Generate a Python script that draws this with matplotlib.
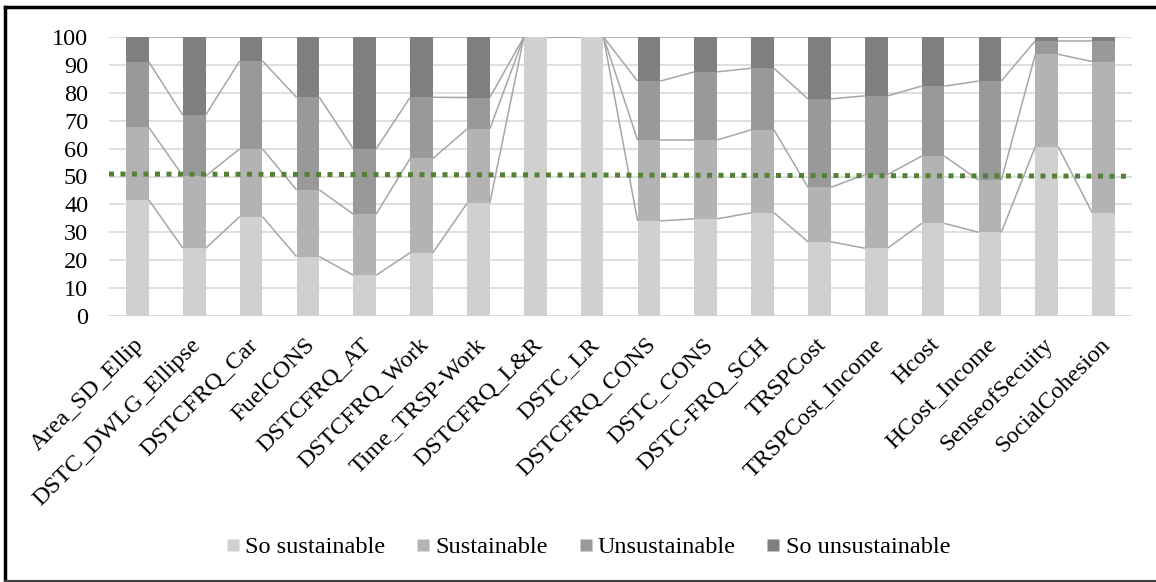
import numpy as np
import matplotlib
matplotlib.use("Agg")
import matplotlib.pyplot as plt
import matplotlib.transforms as mtransforms
from matplotlib.lines import Line2D

plt.rcParams['font.family'] = ['Liberation Serif', 'DejaVu Serif']

# indicators and the share (%) of each sustainability class
indicators = ["Area_SD_Ellip", "DSTC_DWLG_Ellipse", "DSTCFRQ_Car", "FuelCONS",
              "DSTCFRQ_AT", "DSTCFRQ_Work", "Time_TRSP-Work", "DSTCFRQ_L&R",
              "DSTC_LR", "DSTCFRQ_CONS", "DSTC_CONS", "DSTC-FRQ_SCH",
              "TRSPCost", "TRSPCost_Income", "Hcost", "HCost_Income",
              "SenseofSecuity", "SocialCohesion"]

so_sustainable = [41.6, 24.3, 35.6, 21.3, 14.6, 22.7, 40.4, 100, 100,
                  34.1, 34.8, 37.0, 26.6, 24.3, 33.2, 30.0, 60.7, 37.0]
sustainable = [26.0, 25.9, 24.3, 23.9, 21.9, 33.8, 26.6, 0, 0,
               29.0, 28.3, 29.7, 19.5, 26.4, 24.1, 18.7, 33.1, 54.2]
unsustainable = [23.5, 21.8, 31.5, 33.2, 23.4, 21.9, 11.3, 0, 0,
                 21.1, 24.4, 22.1, 31.7, 28.2, 25.1, 35.5, 4.9, 7.5]
so_unsustainable = [100 - a - b - c for a, b, c in
                    zip(so_sustainable, sustainable, unsustainable)]

series_names = ["So sustainable", "Sustainable", "Unsustainable", "So unsustainable"]
series_colors = ["#d0d0d0", "#b3b3b3", "#999999", "#7f7f7f"]

# 50 % reference line (left and right end)
threshold = [50.9, 50.1]

FS = 17.5

fig = plt.figure(figsize=(11.56, 5.82), dpi=100)
ax = fig.add_axes([109/1156, 1 - 316/582, (1132 - 109)/1156, (316 - 37)/582])

x = np.arange(len(indicators))
w = 0.4
data = [so_sustainable, sustainable, unsustainable, so_unsustainable]
bottom = np.zeros(len(indicators))
for vals, name, col in zip(data, series_names, series_colors):
    vals = np.array(vals)
    ax.bar(x, vals, w, bottom=bottom, color=col, label=name, zorder=3)
    bottom = bottom + vals
    # series lines between neighbouring bars
    for i in range(len(x) - 1):
        ax.plot([x[i] + w/2, x[i+1] - w/2], [bottom[i], bottom[i+1]],
                color="#a6a6a6", lw=1.1, zorder=4, solid_capstyle="butt")

ax.plot([-0.5, len(x) - 0.5], threshold, color="#548235", lw=3.6,
        linestyle=(0, (1, 1.3)), dash_capstyle="butt", zorder=5)

ax.set_xlim(-0.5, len(x) - 0.5)
ax.set_ylim(0, 100)
ax.set_yticks(range(0, 101, 10))
ax.yaxis.grid(True, color="#d9d9d9", lw=1.2, zorder=0)
ax.set_axisbelow(True)
for s in ax.spines.values():
    s.set_visible(False)
ax.axhline(0, color="#d9d9d9", lw=1.2, zorder=2)
ax.tick_params(axis="y", length=0, pad=15, labelsize=FS)
ax.tick_params(axis="x", length=0, pad=13)
ax.set_xticks(x)
ax.set_xticklabels(indicators, rotation=45, ha="right", va="top",
                   rotation_mode="anchor", fontsize=FS)
shift = mtransforms.ScaledTranslation(-4/100, 0, fig.dpi_scale_trans)
for lab in ax.get_xticklabels():
    lab.set_transform(lab.get_transform() + shift)

handles = [Line2D([0], [0], marker="s", color="none", markerfacecolor=c,
                  markeredgecolor="none", markersize=8) for c in series_colors]
fig.legend(handles, series_names, loc="center", bbox_to_anchor=(588/1156, 1 - 547/582),
           ncol=4, frameon=False, fontsize=FS, handlelength=0.6, handletextpad=0.2,
           columnspacing=1.25)

# outer frame
fig.add_artist(Line2D([5/1156, 1], [1 - 7/582, 1 - 7/582], color="black", lw=2.5,
                      transform=fig.transFigure))
fig.add_artist(Line2D([5/1156, 5/1156], [1/582, 1 - 7/582], color="black", lw=2.5,
                      transform=fig.transFigure))
fig.add_artist(Line2D([5/1156, 1], [1.5/582, 1.5/582], color="#404040", lw=1.5,
                      transform=fig.transFigure))

fig.savefig("out.png", dpi=100)
